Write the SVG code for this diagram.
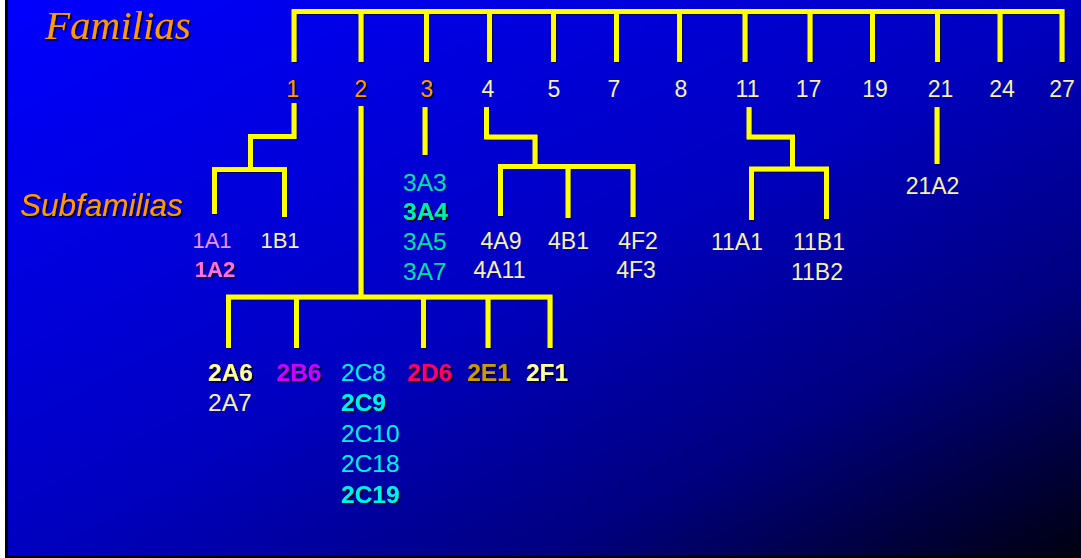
<svg xmlns="http://www.w3.org/2000/svg" width="1081" height="558" viewBox="0 0 1081 558">
<defs>
<linearGradient id="bg" x1="0" y1="0" x2="1" y2="1">
<stop offset="0" stop-color="#0000ff"/>
<stop offset="0.5" stop-color="#0000c0"/>
<stop offset="0.75" stop-color="#000080"/>
<stop offset="1" stop-color="#000010"/>
</linearGradient>
<filter id="sh" x="-10%" y="-10%" width="130%" height="140%">
<feDropShadow dx="1.5" dy="1.5" stdDeviation="0.3" flood-color="#000000" flood-opacity="0.9"/>
</filter>
<filter id="lsh" x="-10%" y="-10%" width="130%" height="130%">
<feDropShadow dx="1" dy="1" stdDeviation="0.3" flood-color="#000000" flood-opacity="0.5"/>
</filter>
</defs>
<style>
.ln{fill:none;stroke:#ffff00;stroke-width:5;stroke-linejoin:miter;stroke-linecap:butt}
text{font-family:"Liberation Sans",Arial,sans-serif}
.fam{font-size:23px;text-anchor:middle}
.or{fill:#ff9900;filter:url(#sh)}
.cr{fill:#f6f2ac}
.s1{font-size:22px}
.s2{font-size:24.5px}
.s3{font-size:23px}
.b{font-weight:bold;filter:url(#sh)}
.mid{text-anchor:middle}
.teal{fill:#00e0a0}
.cy{fill:#00f0f0}
</style>
<rect x="0" y="0" width="1081" height="558" fill="#000000"/>
<rect x="8" y="0" width="1073" height="556" fill="url(#bg)"/>
<rect x="0" y="0" width="5" height="558" fill="#ffffff"/>

<g id="titles">
<text x="45" y="39" style="font-family:'Liberation Serif','Times New Roman',serif;font-style:italic;font-size:41px" fill="#ff9900" filter="url(#sh)">Familias</text>
<text x="20" y="216" style="font-style:italic;font-size:31.5px" fill="#ff9900" filter="url(#sh)">Subfamilias</text>
</g>

<g id="connectors" filter="url(#lsh)">
<polyline class="ln" points="294,62 294,11.5 1062,11.5 1062,62"/>
<path class="ln" d="M361,11.5V62M426.5,11.5V62M489.5,11.5V62M553.5,11.5V62M616.5,11.5V62M679.5,11.5V62M745,11.5V62M810,11.5V62M872.5,11.5V62M937.5,11.5V62M1000,11.5V62"/>
<polyline class="ln" points="294,103 294,136.5 250.5,136.5 250.5,169.5"/>
<polyline class="ln" points="214.5,214 214.5,169.5 284.5,169.5 284.5,217"/>
<path class="ln" d="M361,106V297"/>
<polyline class="ln" points="228.5,348 228.5,297 550,297 550,348"/>
<path class="ln" d="M296.5,297V348M423.5,297V348M488,297V348"/>
<path class="ln" d="M425,107V155"/>
<polyline class="ln" points="486.5,107 486.5,137 535,137 535,166.5"/>
<polyline class="ln" points="500.5,216 500.5,166.5 633,166.5 633,217"/>
<path class="ln" d="M568,166.5V218"/>
<polyline class="ln" points="749,107 749,137 792.5,137 792.5,169"/>
<polyline class="ln" points="751.5,220 751.5,169 826.5,169 826.5,219"/>
<path class="ln" d="M937,107V164"/>
</g>

<g id="families">
<g id="f1"><text class="fam or" x="293" y="97">1</text></g>
<g id="f2"><text class="fam or" x="361" y="97">2</text></g>
<g id="f3"><text class="fam or" x="427" y="97">3</text></g>
<g id="f4"><text class="fam cr" x="488" y="97">4</text></g>
<g id="f5"><text class="fam cr" x="554" y="97">5</text></g>
<g id="f7"><text class="fam cr" x="614" y="97">7</text></g>
<g id="f8"><text class="fam cr" x="681" y="97">8</text></g>
<g id="f11"><text class="fam cr" x="747.5" y="97">11</text></g>
<g id="f17"><text class="fam cr" x="808.5" y="97">17</text></g>
<g id="f19"><text class="fam cr" x="875" y="97">19</text></g>
<g id="f21"><text class="fam cr" x="940.5" y="97">21</text></g>
<g id="f24"><text class="fam cr" x="1002" y="97">24</text></g>
<g id="f27"><text class="fam cr" x="1062" y="97">27</text></g>
</g>

<g id="sub1">
<g id="s1A"><text class="s1 mid" x="212" y="248" fill="#f090f0">1A1</text>
<text class="s1 mid b" x="215" y="277" fill="#ff70e0">1A2</text></g>
<g id="s1B"><text class="s1 mid cr" x="280" y="248">1B1</text></g>
</g>

<g id="sub3">
<g id="s3A"><text class="s2 teal" x="403" y="191">3A3</text>
<text class="s2 b" x="403" y="220" fill="#00f0a0">3A4</text>
<text class="s2 teal" x="403" y="250">3A5</text>
<text class="s2 teal" x="403" y="280">3A7</text></g>
</g>

<g id="sub4">
<g id="s4A"><text class="s3 mid cr" x="501" y="249">4A9</text>
<text class="s3 mid cr" x="499.5" y="278">4A11</text></g>
<g id="s4B"><text class="s3 mid cr" x="568.5" y="249">4B1</text></g>
<g id="s4F"><text class="s3 mid cr" x="638" y="249">4F2</text>
<text class="s3 mid cr" x="636" y="278">4F3</text></g>
</g>

<g id="sub11">
<g id="s11A"><text class="s3 mid cr" x="737" y="250">11A1</text></g>
<g id="s11B"><text class="s3 mid cr" x="819" y="250">11B1</text>
<text class="s3 mid cr" x="817" y="279.5">11B2</text></g>
</g>

<g id="sub21">
<g id="s21A"><text class="s3 mid cr" x="932.5" y="194">21A2</text></g>
</g>

<g id="sub2">
<g id="s2A"><text class="s2 b" x="208" y="381" fill="#ffff99">2A6</text>
<text class="s2 cr" x="208" y="411">2A7</text></g>
<g id="s2B"><text class="s2 b mid" x="299" y="381" fill="#cc00ff">2B6</text></g>
<g id="s2C"><text class="s2 cy" x="341" y="381">2C8</text>
<text class="s2 cy b" x="341" y="411">2C9</text>
<text class="s2 cy" x="341" y="441.5">2C10</text>
<text class="s2 cy" x="341" y="472">2C18</text>
<text class="s2 cy b" x="341" y="502.5">2C19</text></g>
<g id="s2D"><text class="s2 b mid" x="430" y="381" fill="#ff0066">2D6</text></g>
<g id="s2E"><text class="s2 b mid" x="489" y="381" fill="#cc9900">2E1</text></g>
<g id="s2F"><text class="s2 b mid" x="547" y="381" fill="#ffff99">2F1</text></g>
</g>
</svg>
